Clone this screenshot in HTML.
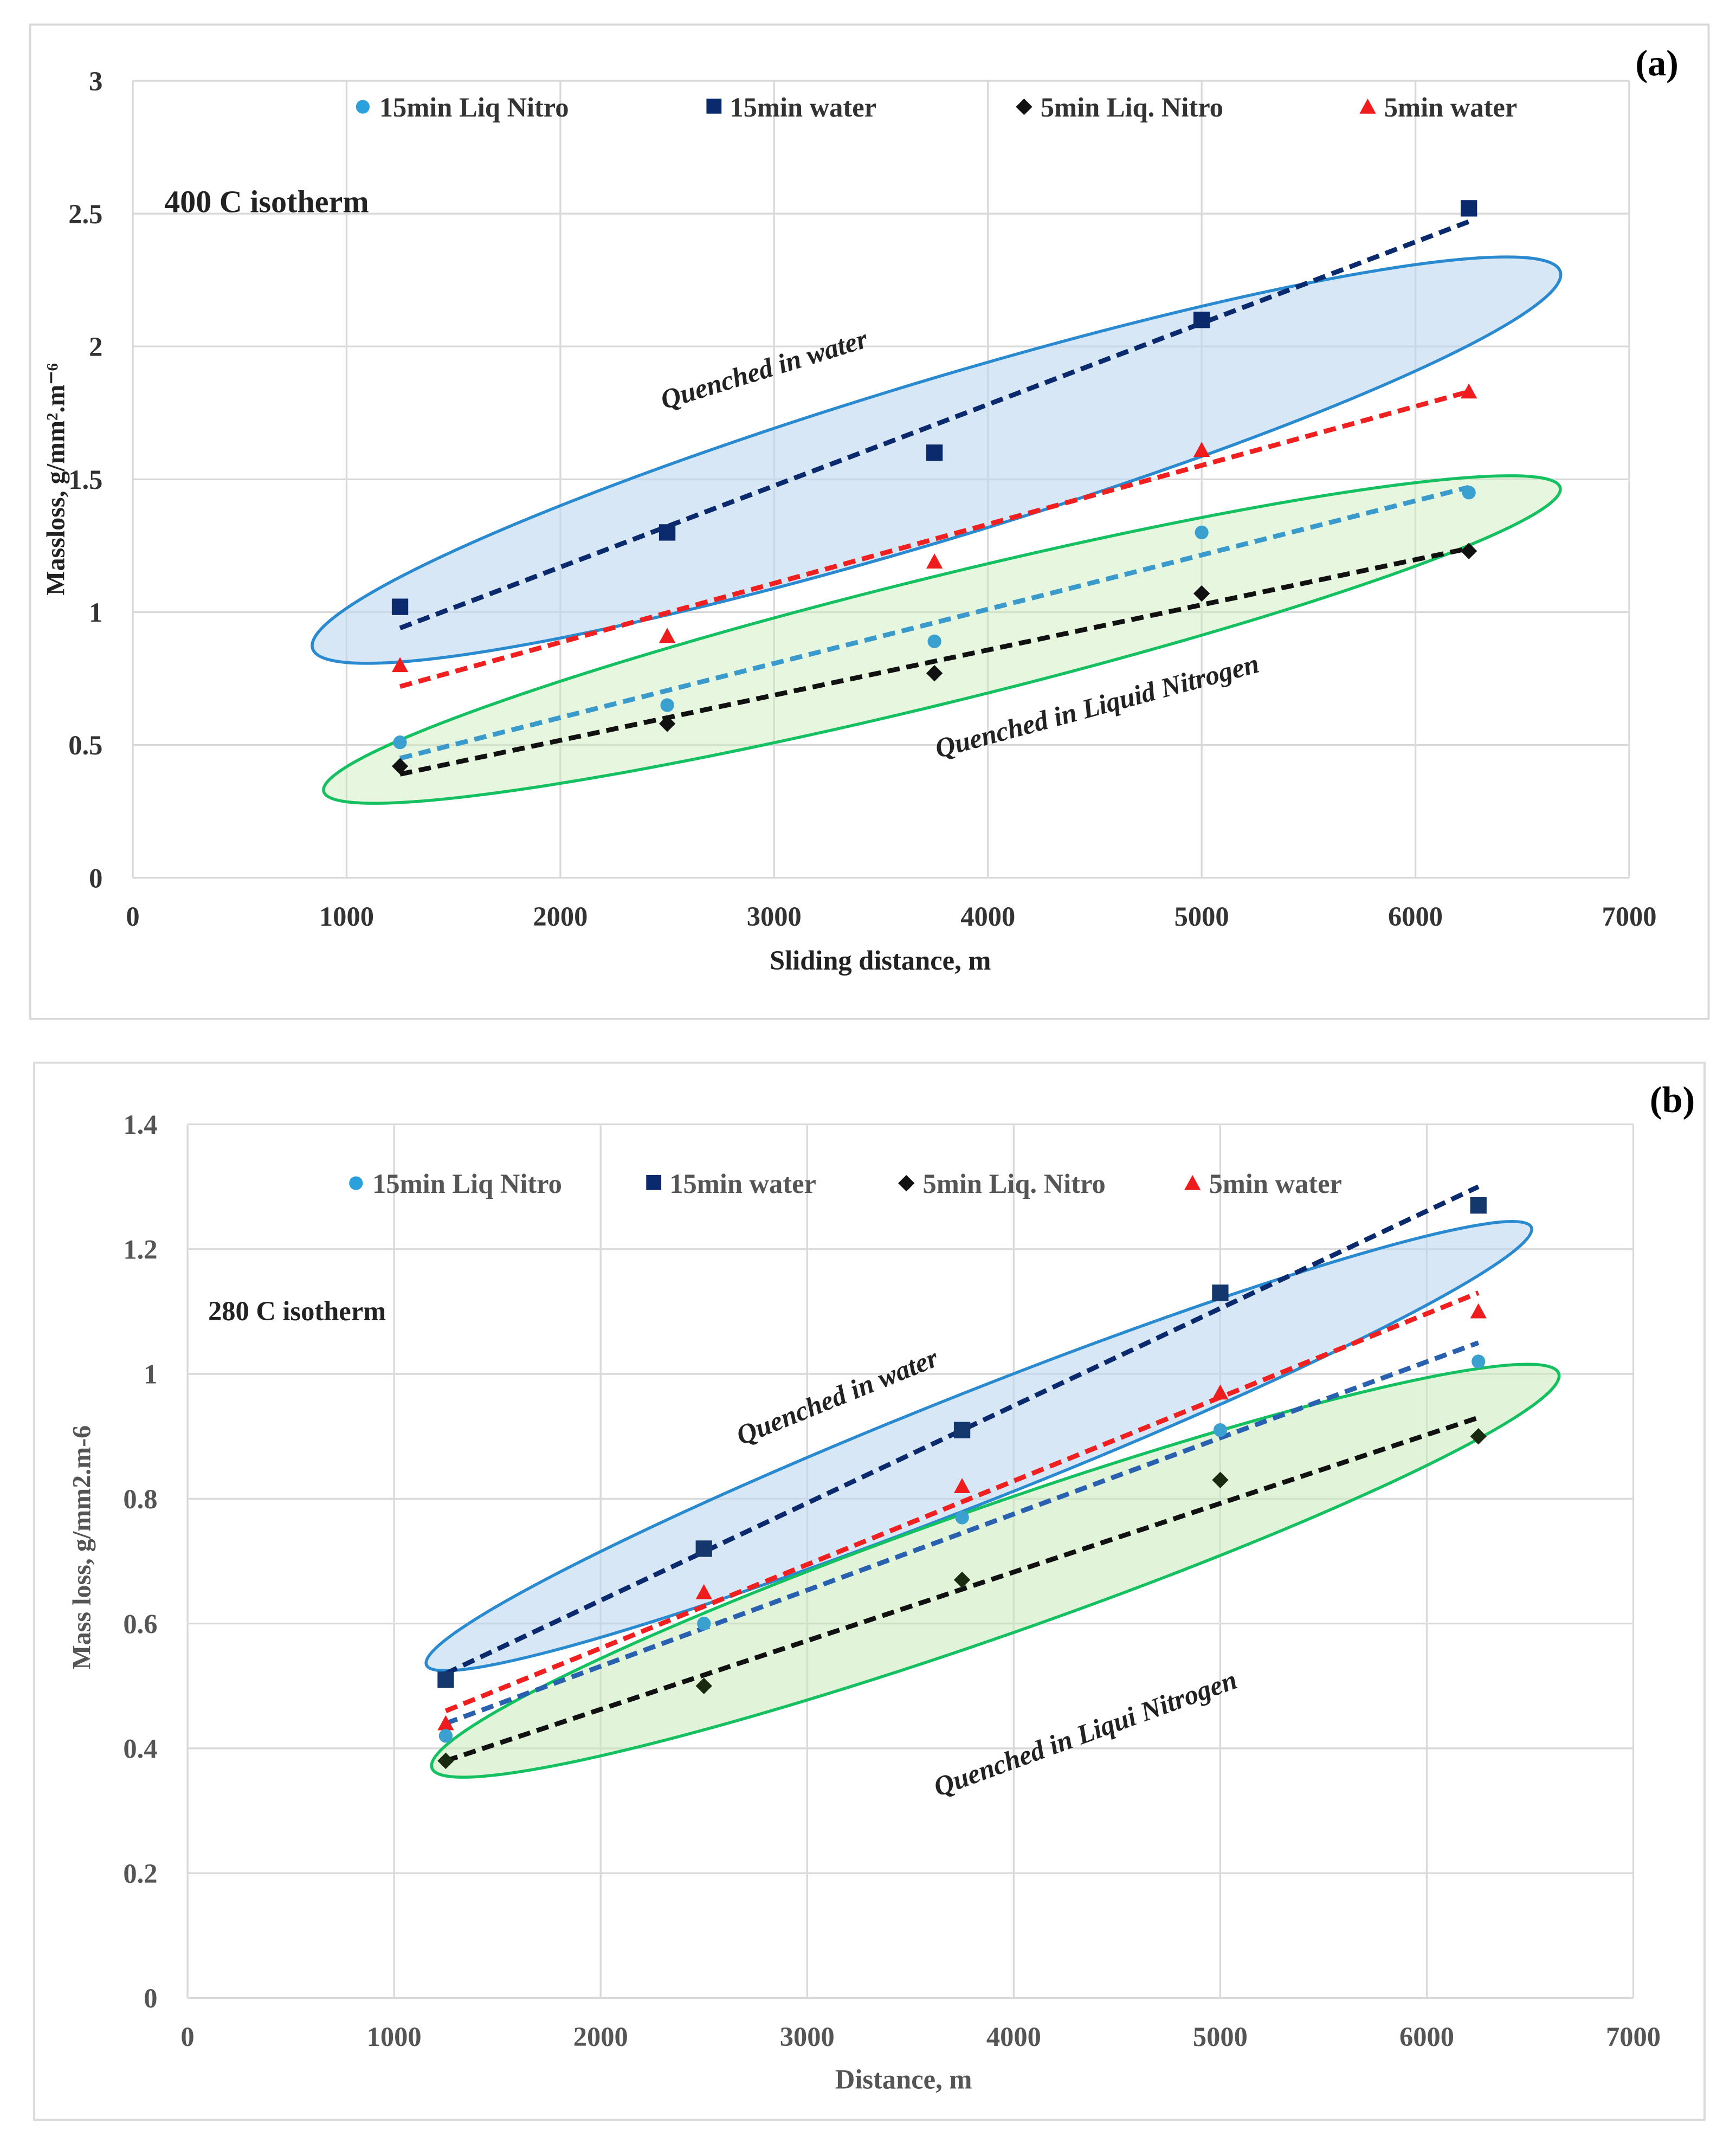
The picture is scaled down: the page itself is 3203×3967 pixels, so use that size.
<!DOCTYPE html>
<html><head><meta charset="utf-8"><style>
html,body{margin:0;padding:0;background:#fff}
svg{display:block}
text{font-family:"Liberation Serif",serif;font-weight:bold}
</style></head><body>
<svg id="chart" width="3203" height="3967" viewBox="0 0 1268 1570" preserveAspectRatio="none" xmlns="http://www.w3.org/2000/svg">
<rect x="22" y="18" width="1226" height="726" fill="#fff" stroke="#d9d9d9" stroke-width="1.5"/>
<rect x="25" y="776" width="1220" height="772" fill="#fff" stroke="#d9d9d9" stroke-width="1.5"/>
<g id="ga"></g>
<g id="gb"></g>
</svg>
<script>
const NS="http://www.w3.org/2000/svg";
// Panel (a) data
const xCats=[1250,2500,3750,5000,6250];
const a_w15=[1.02,1.3,1.6,2.1,2.52];
const a_w5=[0.8,0.91,1.19,1.61,1.83];
const a_n15=[0.51,0.65,0.89,1.3,1.45];
const a_n5=[0.42,0.58,0.77,1.07,1.23];
const a_tr_w15=[0.94,2.47];
const a_tr_w5=[0.72,1.83];
const a_tr_n15=[0.45,1.47];
const a_tr_n5=[0.39,1.24];
const a_yTicks=[0,0.5,1,1.5,2,2.5,3];
const a_yLabels=["0","0.5","1","1.5","2","2.5","3"];
// Panel (b) data
const b_w15=[0.51,0.72,0.91,1.13,1.27];
const b_w5=[0.44,0.65,0.82,0.97,1.1];
const b_n15=[0.42,0.6,0.77,0.91,1.02];
const b_n5=[0.38,0.5,0.67,0.83,0.9];
const b_tr_w15=[0.52,1.3];
const b_tr_w5=[0.46,1.13];
const b_tr_n15=[0.44,1.05];
const b_tr_n5=[0.38,0.93];
const b_yTicks=[0,0.2,0.4,0.6,0.8,1,1.2,1.4];
const b_yLabels=["0","0.2","0.4","0.6","0.8","1","1.2","1.4"];
const xTicks=[0,1000,2000,3000,4000,5000,6000,7000];
const xLabels=["0","1000","2000","3000","4000","5000","6000","7000"];
const trX=[1250,6250];

function el(p,t,a,txt){const e=document.createElementNS(NS,t);for(const k in a)e.setAttribute(k,a[k]);if(txt!==undefined)e.textContent=txt;p.appendChild(e);return e;}

function panel(g,o){
  const X=v=>o.x0+(o.x1-o.x0)*v/7000;
  const Y=v=>o.y0-(o.y0-o.y1)*v/o.ymax;
  // grid
  o.yT.forEach((v,i)=>{
    const l=el(g,'line',{x1:X(0),x2:X(7000),y1:Y(v),y2:Y(v),stroke:'#d9d9d9','stroke-width':1.3});
    
    
    const t=el(g,'text',{x:o.x0-22,y:Y(v)+7,'text-anchor':'end','font-size':20,fill:o.tick},o.yL[i]);
    
    
  });
  xTicks.forEach((v,i)=>{
    const l=el(g,'line',{x1:X(v),x2:X(v),y1:Y(0),y2:Y(o.ymax),stroke:'#d9d9d9','stroke-width':1.3});
    
    
    const t=el(g,'text',{x:X(v),y:Y(0)+35,'text-anchor':'middle','font-size':20,fill:o.tick},xLabels[i]);
    
    
  });
  // ellipses
  o.ell.forEach(e=>{
    const E=el(g,'ellipse',{cx:e[0],cy:e[1],rx:e[2],ry:e[3],transform:`rotate(${e[4]} ${e[0]} ${e[1]})`,fill:e[5],stroke:e[6],'stroke-width':2.2});
    
    
  });
  // trendlines
  o.tr.forEach(t=>{
    const l=el(g,'line',{x1:X(trX[0]),y1:Y(t[0][0]),x2:X(trX[1]),y2:Y(t[0][1]),stroke:t[1],'stroke-width':3.5,'stroke-dasharray':'9 5'});
    
    
  });
  // markers
  o.series.forEach(s=>{
    s.v.forEach((v,i)=>{
      const cx=X(xCats[i]),cy=Y(v);let m;
      if(s.m==='c')m=el(g,'circle',{cx,cy,r:5,fill:s.c});
      else if(s.m==='s')m=el(g,'rect',{x:cx-6,y:cy-6,width:12,height:12,fill:s.c});
      else if(s.m==='d')m=el(g,'polygon',{points:`${cx},${cy-6} ${cx+6},${cy} ${cx},${cy+6} ${cx-6},${cy}`,fill:s.c});
      else m=el(g,'polygon',{points:`${cx},${cy-6} ${cx+6},${cy+5} ${cx-6},${cy+5}`,fill:s.c});
      
      
    });
  });
  // legend
  o.leg.forEach(L=>{
    const x=L[0],y=o.ly;let m;
    if(L[1]==='c')m=el(g,'circle',{cx:x,cy:y,r:5,fill:L[2]});
    else if(L[1]==='s')m=el(g,'rect',{x:x-5,y:y-6,width:11,height:11,fill:L[2]});
    else if(L[1]==='d')m=el(g,'polygon',{points:`${x},${y-6} ${x+6},${y} ${x},${y+6} ${x-6},${y}`,fill:L[2]});
    else m=el(g,'polygon',{points:`${x},${y-6} ${x+6},${y+5} ${x-6},${y+5}`,fill:L[2]});
    
    
    const t=el(g,'text',{x:x+12,y:y+7,'font-size':20,fill:o.leqc},L[3]);
    
    
  });
  o.txt.forEach(T=>{
    const t=el(g,'text',{x:T[0],y:T[1],'font-size':T[2],fill:T[3],'text-anchor':T[5]||'start',transform:`rotate(${T[4]} ${T[0]} ${T[1]})`,'font-style':T[7]||'normal'},T[6]);
    
    
  });
}

panel(document.getElementById('ga'),{
  x0:97,x1:1190,y0:641,y1:59,ymax:3,yT:a_yTicks,yL:a_yLabels,tick:'#333',leqc:'#333',ly:78,
  ell:[[684,336,476,58,-16.8,'rgba(190,215,238,0.6)','#2a8ad0','water-ellipse'],
       [688,467,465,46,-13.8,'rgba(200,235,185,0.45)','#14c060','nitrogen-ellipse']],
  tr:[[a_tr_w15,'#0b2a6e','trend-15min-water'],[a_tr_w5,'#f02020','trend-5min-water'],[a_tr_n15,'#3a9acc','trend-15min-liq-nitro'],[a_tr_n5,'#111','trend-5min-liq-nitro']],
  series:[{v:a_w15,m:'s',c:'#0b2a6e',n:'15min-water'},{v:a_w5,m:'t',c:'#ee1c1c',n:'5min-water'},{v:a_n15,m:'c',c:'#3aa0d0',n:'15min-liq-nitro'},{v:a_n5,m:'d',c:'#111',n:'5min-liq-nitro'}],
  leg:[[265,'c','#2aa0dc','15min Liq Nitro'],[521,'s','#0b2a6e','15min water'],[748,'d','#111','5min Liq. Nitro'],[999,'t','#ee1c1c','5min water']],
  txt:[[120,155,23,'#222',0,'start','400 C isotherm','normal','isotherm-label'],
       [1226,55,27,'#000',0,'end','(a)','normal','panel-label-a'],
       [643,708,20,'#222',0,'middle','Sliding distance, m','normal','x-axis-title'],
       [47,350,19,'#222',-90,'middle','Massloss, g/mm².m⁻⁶','normal','y-axis-title'],
       [560,276,20,'#222',-17,'middle','Quenched in water','italic','water-annotation'],
       [803,522,20,'#222',-15,'middle','Quenched in Liquid Nitrogen','italic','nitrogen-annotation']]
});
panel(document.getElementById('gb'),{
  x0:137,x1:1193,y0:1459,y1:821,ymax:1.4,yT:b_yTicks,yL:b_yLabels,tick:'#555',leqc:'#555',ly:864,
  ell:[[715,1056,434,40,-21.6,'rgba(190,215,238,0.6)','#2a8ad0','water-ellipse'],
       [727,1147,436,47,-19.3,'rgba(200,235,185,0.55)','#14c060','nitrogen-ellipse']],
  tr:[[b_tr_w15,'#0b2a6e','trend-15min-water'],[b_tr_w5,'#f02020','trend-5min-water'],[b_tr_n15,'#2a60b0','trend-15min-liq-nitro'],[b_tr_n5,'#111','trend-5min-liq-nitro']],
  series:[{v:b_w15,m:'s',c:'#14386e',n:'15min-water'},{v:b_w5,m:'t',c:'#ee1c1c',n:'5min-water'},{v:b_n15,m:'c',c:'#3aa0d0',n:'15min-liq-nitro'},{v:b_n5,m:'d',c:'#1a2a10',n:'5min-liq-nitro'}],
  leg:[[260,'c','#2aa0dc','15min Liq Nitro'],[477,'s','#0b2a6e','15min water'],[662,'d','#111','5min Liq. Nitro'],[871,'t','#ee1c1c','5min water']],
  txt:[[152,964,20,'#222',0,'start','280 C isotherm','normal','isotherm-label'],
       [1238,812,27,'#000',0,'end','(b)','normal','panel-label-b'],
       [660,1525,20,'#555',0,'middle','Distance, m','normal','x-axis-title'],
       [66,1130,19,'#555',-90,'middle','Mass loss, g/mm2.m-6','normal','y-axis-title'],
       [614,1026,20,'#222',-22,'middle','Quenched in water','italic','water-annotation'],
       [795,1272,20,'#222',-20,'middle','Quenched in Liqui Nitrogen','italic','nitrogen-annotation']]
});
</script>
</body></html>
